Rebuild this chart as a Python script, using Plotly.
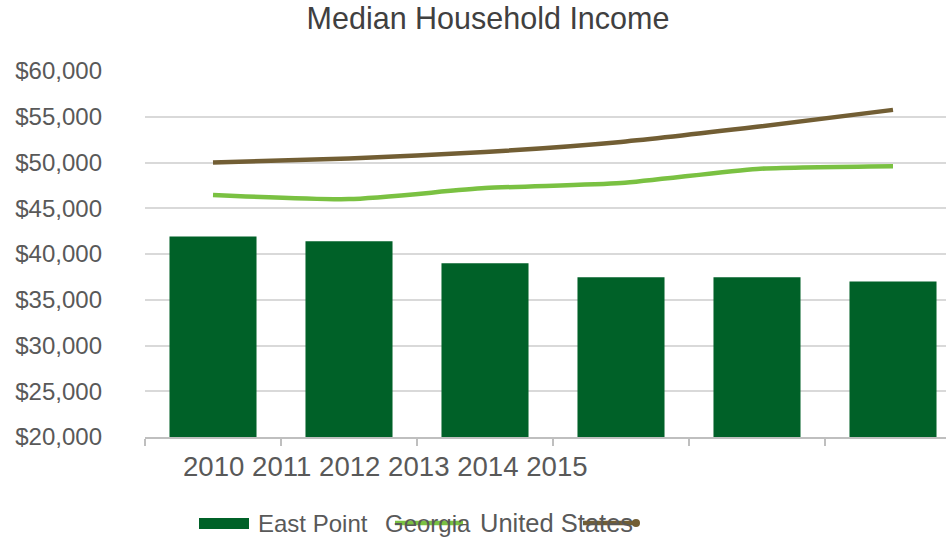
import plotly.graph_objects as go

# Median household income by year
years = ["2010", "2011", "2012", "2013", "2014", "2015"]
east_point = [41900, 41400, 39000, 37450, 37450, 37000]
georgia = [46450, 46000, 47200, 47750, 49300, 49600]
united_states = [50000, 50450, 51150, 52250, 53900, 55750]

y_ticks = [20000, 25000, 30000, 35000, 40000, 45000, 50000, 55000, 60000]

BAR_GREEN = "#006128"
LIGHT_GREEN = "#7AC142"
BROWN = "#725E34"
TEXT = "#595959"
FONT = "Liberation Sans"

W, H = 946, 538
ML, MR, MT, MB = 145, 0, 71, 101
PW, PH = W - ML - MR, H - MT - MB


def px(x):
    """pixel x -> paper x"""
    return (x - ML) / PW


def py(y):
    """pixel y -> paper y"""
    return (H - MB - y) / PH


fig = go.Figure()
fig.add_trace(go.Bar(x=years, y=east_point, name="East Point",
                     marker=dict(color=BAR_GREEN, line_width=0), width=0.64,
                     showlegend=False))
fig.add_trace(go.Scatter(x=years, y=georgia, name="Georgia", mode="lines",
                         line=dict(color=LIGHT_GREEN, width=4.5, shape="spline", smoothing=0.6),
                         showlegend=False))
fig.add_trace(go.Scatter(x=years, y=united_states, name="United States", mode="lines",
                         line=dict(color=BROWN, width=4.5, shape="spline", smoothing=0.6),
                         showlegend=False))

# category ticks are shown as a single run of text under the first bars
annotations = [
    dict(text=" ".join(years), xref="paper", yref="paper", x=px(181), y=py(466),
         xanchor="left", yanchor="middle", showarrow=False,
         font=dict(family=FONT, size=27.6, color=TEXT)),
]

# hand-built legend row: (label, left edge px, font size)
legend_items = [("East Point", 256, 24), ("Georgia", 383, 24), ("United States", 478, 25.5)]
for label, x0, fs in legend_items:
    annotations.append(dict(text=label, xref="paper", yref="paper", x=px(x0), y=py(523),
                            xanchor="left", yanchor="middle", showarrow=False,
                            font=dict(family=FONT, size=fs, color=TEXT)))

shapes = [
    dict(type="rect", xref="paper", yref="paper", x0=px(199), x1=px(249),
         y0=py(529), y1=py(518), fillcolor=BAR_GREEN, line_width=0),
    dict(type="line", xref="paper", yref="paper", x0=px(395), x1=px(463),
         y0=py(523), y1=py(523), line=dict(color=LIGHT_GREEN, width=4.5)),
    dict(type="line", xref="paper", yref="paper", x0=px(583), x1=px(636),
         y0=py(523), y1=py(523), line=dict(color=BROWN, width=4.5)),
    dict(type="circle", xref="paper", yref="paper", x0=px(632), x1=px(640),
         y0=py(527), y1=py(519), fillcolor=BROWN, line_width=0),
]

fig.update_layout(
    width=W, height=H,
    margin=dict(l=ML, r=MR, t=MT, b=MB),
    paper_bgcolor="white", plot_bgcolor="white",
    title=dict(text="Median Household Income", xref="container", x=488 / W, xanchor="center",
               y=1 - 18 / H, yanchor="middle",
               font=dict(family=FONT, size=30.5, color="#404040")),
    bargap=0.36,
    annotations=annotations,
    shapes=shapes,
    font=dict(family=FONT, color=TEXT),
)
fig.update_xaxes(
    type="category", range=[-0.5, -0.5 + PW / 136],
    showticklabels=False, showgrid=False,
    ticks="outside", tickson="boundaries", ticklen=7, tickcolor="#BFBFBF", tickwidth=1.5,
    showline=True, linecolor="#BFBFBF", linewidth=1.5,
)
fig.update_yaxes(
    range=[20000, 60000], tickvals=y_ticks,
    ticktext=[f"${v:,}" for v in y_ticks],
    tickfont=dict(family=FONT, size=24, color=TEXT),
    showgrid=True, gridcolor="#D9D9D9", gridwidth=1.5,
    zeroline=False, showline=False, ticks="", ticklabelstandoff=42,
)

fig.write_html("out.html")
